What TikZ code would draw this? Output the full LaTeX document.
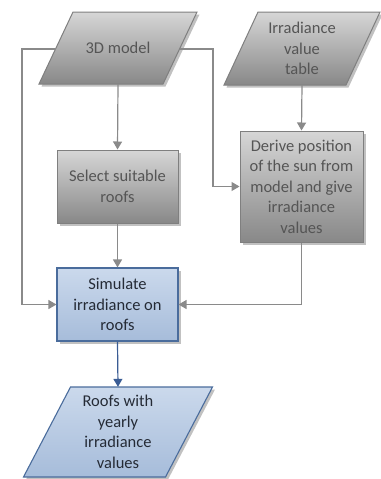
\documentclass[tikz,border=0pt]{standalone}
\usepackage{fontspec}
\setmainfont{Carlito}
\usetikzlibrary{arrows.meta,shadows}

\definecolor{greytop}{HTML}{D6D6D6}
\definecolor{greybot}{HTML}{888888}
\definecolor{greyline}{HTML}{7F7F7F}
\definecolor{greytext}{HTML}{555555}
\definecolor{conncol}{HTML}{8A8A8A}
\definecolor{bluetop}{HTML}{CBD9EC}
\definecolor{bluebot}{HTML}{A6BCDA}
\definecolor{blueline}{HTML}{4A6C9C}
\definecolor{bluetext}{HTML}{252B36}
\definecolor{bluearrow}{HTML}{3A5C94}

\tikzset{
  softshadow/.style={drop shadow={shadow xshift=2.5pt, shadow yshift=-2.5pt, opacity=0.35, fill=black!70}},
  greyshape/.style={top color=greytop, bottom color=greybot, draw=greyline, line width=1pt, softshadow},
  blueshape/.style={top color=bluetop, bottom color=bluebot, draw=blueline, line width=1.1pt, softshadow},
  label/.style={font=\fontsize{16.5}{20.5}\selectfont, align=center, inner sep=0pt},
  greytxt/.style={label, text=greytext},
  bluetxt/.style={label, text=bluetext},
  greybox/.style={greyshape, greytxt, rectangle},
  bluebox/.style={blueshape, bluetxt, rectangle},
  conn/.style={draw=conncol, line width=1.2pt, -{Triangle[length=8pt,width=9pt]}},
  bconn/.style={draw=bluearrow, line width=1.2pt, -{Triangle[length=8pt,width=9pt]}}
}

\begin{document}
\begin{tikzpicture}[x=1pt, y=-1pt]
  \useasboundingbox (0,0) rectangle (380,479);

  % input data (parallelograms)
  \shade[greyshape] (73,12) -- (197,12) -- (163,84) -- (39,84) -- cycle;
  \node[greytxt, minimum width=90pt, minimum height=72pt] (model) at (118,48) {3D model};

  \shade[greyshape] (258,12) -- (380,12) -- (346,85) -- (224,85) -- cycle;
  \node[greytxt, minimum width=90pt, minimum height=73pt] (table) at (302,48.5) {Irradiance\\value\\table};

  % processing steps
  \node[greybox, minimum width=121pt, minimum height=73pt] (select) at (117.5,186.5) {Select suitable\\roofs};
  \node[greybox, minimum width=123pt, minimum height=111pt] (derive) at (301.5,186.5) {Derive position\\of the sun from\\model and give\\irradiance\\values};
  \node[bluebox, minimum width=121pt, minimum height=73pt] (sim) at (117.5,304.5) {Simulate\\irradiance on\\roofs};

  % output data
  \shade[blueshape] (70.5,387) -- (212.5,387) -- (165.5,477) -- (23.5,477) -- cycle;
  \node[bluetxt, minimum width=100pt, minimum height=90pt] (out) at (118,432) {Roofs with\\yearly\\irradiance\\values};

  % points on the slanted sides of the model shape
  \coordinate (mL) at (55.5,49);
  \coordinate (mR) at (179.5,49);

  % connectors
  \draw[conn] (model.south) -- (select.north);
  \draw[conn] (table.south) -- (derive.north);
  \draw[conn] (select.south) -- (sim.north);
  \draw[conn] (mL) -- ++(-33.5,0) |- (sim.west);
  \draw[conn] (mR) -- ++(33.5,0) |- (derive.west);
  \draw[conn] (derive.south) |- (sim.east);
  \draw[bconn] (sim.south) -- (out.north);
\end{tikzpicture}
\end{document}
